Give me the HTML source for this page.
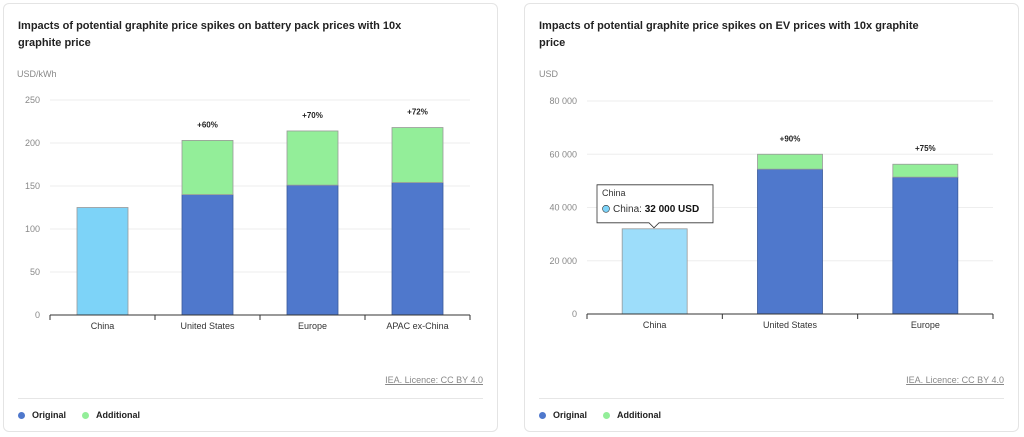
<!DOCTYPE html>
<html><head><meta charset="utf-8"><style>
body{margin:0;width:1024px;height:437px;background:#fff;font-family:"Liberation Sans",sans-serif;overflow:hidden;position:relative}
.card{position:absolute;top:3px;width:495px;height:429px;border:1px solid #e4e4e4;border-radius:6px;box-sizing:border-box}
.title{position:absolute;left:14px;top:14px;width:400px;font-size:11px;font-weight:bold;color:#222;line-height:17px}
.sep{position:absolute;left:14px;right:14px;top:394px;border-top:1px solid #e6e6e6}
.src{position:absolute;right:14px;top:371px;font-size:9px;color:#888;text-decoration:underline}
.leg{position:absolute;left:14px;top:406px;font-size:9px;font-weight:bold;color:#222}
.dot{display:inline-block;width:7px;height:7px;border-radius:50%;margin-right:7px;vertical-align:-1px}
svg{position:absolute;left:0;top:0}
</style></head><body>
<div class="card" style="left:3px">
<div class="title">Impacts of potential graphite price spikes on battery pack prices with 10x graphite price</div>
<div class="src">IEA. Licence: CC BY 4.0</div>
<div class="sep"></div>
<div class="leg"><span><span class="dot" style="background:#4f78cc"></span>Original</span><span style="margin-left:16px"><span class="dot" style="background:#93ee99"></span>Additional</span></div>
</div>
<div class="card" style="left:524px">
<div class="title">Impacts of potential graphite price spikes on EV prices with 10x graphite price</div>
<div class="src">IEA. Licence: CC BY 4.0</div>
<div class="sep"></div>
<div class="leg"><span><span class="dot" style="background:#4f78cc"></span>Original</span><span style="margin-left:16px"><span class="dot" style="background:#93ee99"></span>Additional</span></div>
</div>
<svg id="s" width="1024" height="437" font-family="Liberation Sans, sans-serif"></svg>
<script>
const catsA=["China","United States","Europe","APAC ex-China"];
const origA=[125,140,151,154];
const addA=[0,63,63,64];
const pctA=["","+60%","+70%","+72%"];
const ticksA=[0,50,100,150,200,250];
const catsB=["China","United States","Europe"];
const origB=[32000,54400,51400];
const addB=[0,5600,4850];
const pctB=["","+90%","+75%"];
const ticksB=[0,20000,40000,60000,80000];
const NS="http://www.w3.org/2000/svg",S=document.getElementById('s');
function el(t,a,txt){const e=document.createElementNS(NS,t);for(const k in a)e.setAttribute(k,a[k]);if(txt!==undefined)e.textContent=txt;S.appendChild(e);return e;}
function fmt(v){return String(v).replace(/\B(?=(\d{3})+(?!\d))/g," ");}
function chart(o){
 const y=v=>o.y0-(v/o.max)*(o.y0-o.yTop);
 const bw=(o.x1-o.x0)/o.cats.length;
 el('text',{x:o.ux,y:77,'font-size':9,fill:'#888'},o.unit);
 o.ticks.forEach(t=>{
  if(t>0){el('line',{x1:o.x0,x2:o.x1,y1:y(t),y2:y(t),stroke:'#eee'});}
  const tl=el('text',{x:o.x0-10,y:y(t)+3,'font-size':9,fill:'#888','text-anchor':'end'},fmt(t));
  
  
 });
 o.cats.forEach((c,i)=>{
  const cx=o.x0+bw*(i+0.5),x=cx-o.w/2;
  if(i===0){
   const b=el('rect',{x:x,y:y(o.orig[i]),width:o.w,height:o.y0-y(o.orig[i]),fill:o.chinaCol,stroke:'#999','stroke-width':0.8});
   
   
  } else {
   const b=el('rect',{x:x,y:y(o.orig[i]),width:o.w,height:o.y0-y(o.orig[i]),fill:'#4f78cc',stroke:'#3a5a9a','stroke-width':0.8});
   
   
   const t=o.orig[i]+o.add[i];
   const a=el('rect',{x:x,y:y(t),width:o.w,height:y(o.orig[i])-y(t),fill:'#93ee99',stroke:'#999','stroke-width':0.8});
   
   
   el('text',{x:cx,y:y(t)-13,'font-size':8,'font-weight':'bold',fill:'#222','text-anchor':'middle'},o.pct[i]);
  }
  const xl=el('text',{x:cx,y:o.y0+14,'font-size':9,fill:'#333','text-anchor':'middle'},c);
  
  
 });
 el('line',{x1:o.x0,x2:o.x1,y1:o.y0,y2:o.y0,stroke:'#333'});
 for(let i=0;i<=o.cats.length;i++){const tx=o.x0+bw*i;el('line',{x1:tx,x2:tx,y1:o.y0,y2:o.y0+5,stroke:'#333'});}
 return y;
}
chart({cats:catsA,orig:origA,add:addA,pct:pctA,ticks:ticksA,max:250,x0:50,x1:470,y0:315,yTop:100,w:51,unit:'USD/kWh',ux:17,chinaCol:'#7dd3f8'});
const yB=chart({cats:catsB,orig:origB,add:addB,pct:pctB,ticks:ticksB,max:80000,x0:587,x1:993,y0:314,yTop:101,w:65,unit:'USD',ux:539,chinaCol:'#9dddfa'});
const ty=yB(origB[0]);
const tt=el('path',{d:`M597 ${ty-44} H713 V${ty-6} H659 L654 ${ty-1} L649 ${ty-6} H597 Z`,fill:'#fff',stroke:'#333','stroke-width':0.8});


el('text',{x:602,y:ty-33,'font-size':9,fill:'#333'},'China');
el('circle',{cx:606,cy:ty-20,r:3.5,fill:'#7dd3f8',stroke:'#333','stroke-width':0.6});
const t2=el('text',{x:613,y:ty-17,'font-size':10,fill:'#333'},'China: ');
const b2=document.createElementNS(NS,'tspan');b2.setAttribute('font-weight','bold');b2.setAttribute('fill','#111');b2.textContent=fmt(origB[0])+' USD';t2.appendChild(b2);
</script>
</body></html>
